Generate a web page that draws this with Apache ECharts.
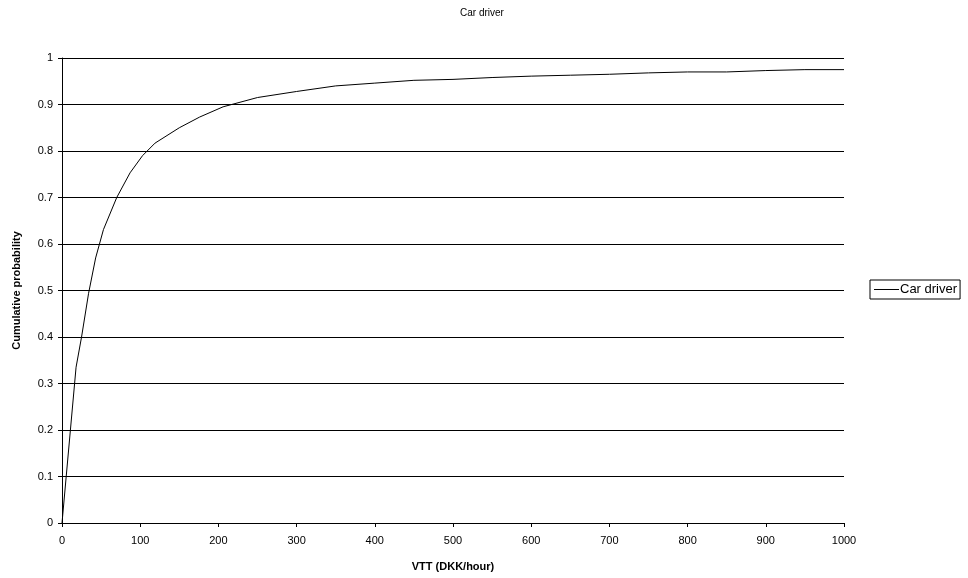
<!DOCTYPE html>
<html>
<head>
<meta charset="utf-8">
<script src="https://cdn.jsdelivr.net/npm/echarts@6/dist/echarts.min.js"></script>
<style>
html,body{margin:0;padding:0;background:#fff;}
#chart{width:968px;height:578px;}
</style>
</head>
<body>
<div id="chart"></div>
<script>
var vtt = [0, 18, 25, 34, 43, 53, 70, 87, 103, 119, 150, 176, 206, 250, 300, 350, 400, 450, 500, 550, 600, 650, 700, 750, 800, 850, 900, 950, 1000];
var cumProb = [0, 0.335, 0.40, 0.494, 0.57, 0.631, 0.70, 0.753, 0.79, 0.817, 0.85, 0.873, 0.895, 0.915, 0.928, 0.940, 0.946, 0.952, 0.954, 0.958, 0.961, 0.963, 0.965, 0.968, 0.970, 0.970, 0.973, 0.975, 0.975];
var seriesName = 'Car driver';

var data = vtt.map(function (v, i) { return [v, cumProb[i]]; });
var font = 'Liberation Sans, Arial, sans-serif';
var chart = echarts.init(document.getElementById('chart'));
chart.setOption({
  animation: false,
  backgroundColor: '#fff',
  title: {
    text: 'Car driver',
    left: 455, top: 3,
    textStyle: {fontSize: 10, fontWeight: 'normal', color: '#000', fontFamily: font}
  },
  grid: {left: 62, right: 124, top: 58, bottom: 55, containLabel: false},
  legend: {
    left: 870, top: 280,
    orient: 'vertical',
    borderColor: '#000', borderWidth: 1, borderRadius: 0,
    padding: [3, 3, 3, 4],
    itemWidth: 25, itemHeight: 1, itemGap: 2,
    icon: 'rect',
    textStyle: {fontSize: 13, color: '#000', fontFamily: font, padding: [0,0,0,-4]},
    data: [seriesName]
  },
  xAxis: {
    type: 'value', min: 0, max: 1000, interval: 100,
    name: 'VTT (DKK/hour)', nameLocation: 'middle', nameGap: 38,
    nameTextStyle: {fontSize: 11, fontWeight: 'bold', color: '#000', fontFamily: font},
    axisLine: {lineStyle: {color: '#000', width: 1}},
    axisTick: {show: true, length: 4, lineStyle: {color: '#000'}},
    axisLabel: {fontSize: 11, color: '#000', fontFamily: font, margin: 12,
      formatter: function (v) { return String(v); }},
    splitLine: {show: false}
  },
  yAxis: {
    type: 'value', min: 0, max: 1, interval: 0.1,
    name: 'Cumulative probability', nameLocation: 'middle', nameGap: 40, nameRotate: 90,
    nameTextStyle: {fontSize: 11, fontWeight: 'bold', color: '#000', fontFamily: font},
    axisLine: {show: true, lineStyle: {color: '#000', width: 1}},
    axisTick: {show: true, length: 4, lineStyle: {color: '#000'}},
    axisLabel: {fontSize: 11, color: '#000', fontFamily: font, margin: 9},
    splitLine: {show: true, lineStyle: {color: '#000', width: 1}}
  },
  series: [{
    name: seriesName,
    type: 'line',
    data: data,
    symbol: 'none',
    smooth: false,
    lineStyle: {color: '#000', width: 1},
    itemStyle: {color: '#000'}
  }]
});
</script>
</body>
</html>
